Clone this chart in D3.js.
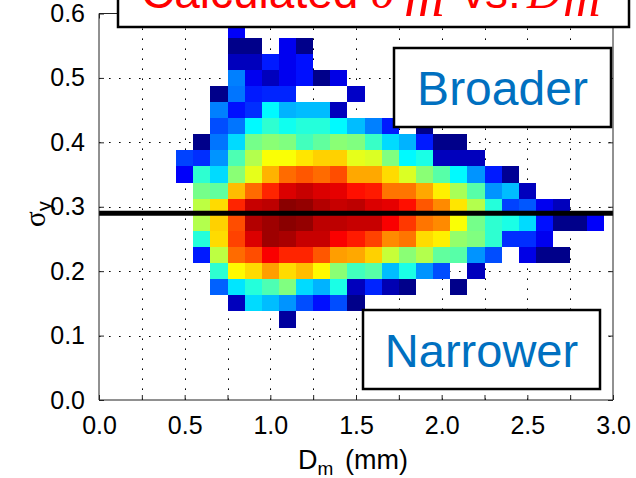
<!DOCTYPE html>
<html>
<head>
<meta charset="utf-8">
<script src="https://cdn.jsdelivr.net/npm/d3@7/dist/d3.min.js"></script>
<style>
  body { margin: 0; background: #fff; }
  svg { display: block; }
</style>
</head>
<body>
<svg id="chart" width="636" height="478"></svg>
<script>
// Bin centres of the 2-D histogram: mass-weighted mean diameter (mm) and sigma.
const dmCenters = [0.5, 0.6, 0.7, 0.8, 0.9, 1.0, 1.1, 1.2, 1.3, 1.4, 1.5, 1.6, 1.7,
                   1.8, 1.9, 2.0, 2.1, 2.2, 2.3, 2.4, 2.5, 2.6, 2.7, 2.8, 2.9];
const sigmaCenters = [0.575, 0.55, 0.525, 0.5, 0.475, 0.45, 0.425, 0.4, 0.375, 0.35,
                      0.325, 0.3, 0.275, 0.25, 0.225, 0.2, 0.175, 0.15, 0.125];

// Relative occurrence (0-100) per bin, one row per sigma bin, 0 = no samples.
const row0575 = [0,0,0,12,0,0,0,0,0,0,0,0,0,0,0,0,0,0,0,0,0,0,0,0,0];
const row0550 = [0,0,0,1,1,0,11,1,0,0,0,0,0,0,0,0,0,0,0,0,0,0,0,0,0];
const row0525 = [0,0,0,6,6,15,11,14,0,0,0,0,0,0,0,0,0,0,0,0,0,0,0,0,0];
const row0500 = [0,0,0,25,11,6,11,14,1,10,0,0,0,0,0,0,0,0,0,0,0,0,0,0,0];
const row0475 = [0,0,1,24,15,16,16,0,0,0,7,0,0,0,0,0,0,0,0,0,0,0,0,0,0];
const row0450 = [0,0,25,14,17,37,30,31,31,6,0,0,0,0,0,0,0,0,0,0,0,0,0,0,0];
const row0425 = [0,0,20,24,37,42,39,41,41,37,31,25,15,0,1,0,0,0,0,0,0,0,0,0,0];
const row0400 = [0,1,24,34,49,51,50,44,47,51,50,43,34,30,15,1,1,0,0,0,0,0,0,0,0];
const row0375 = [19,17,27,45,55,62,62,65,67,67,60,59,50,37,40,6,6,6,0,0,0,0,0,0,0];
const row0350 = [12,42,34,51,60,70,77,79,77,80,71,71,66,59,51,46,37,27,15,2,0,0,0,0,0];
const row0325 = [0,49,47,69,77,84,91,93,91,90,86,85,76,76,71,64,54,46,27,31,6,0,0,0,0];
const row0300 = [0,56,66,84,93,94,99,98,95,93,94,91,90,86,79,74,65,55,41,19,21,11,6,0,0];
const row0275 = [0,55,67,80,95,97,99,98,94,94,93,93,88,82,76,74,62,49,42,40,34,14,1,1,12];
const row0250 = [0,41,66,81,91,97,96,93,93,88,85,81,74,76,66,64,52,50,42,17,17,11,0,0,0];
const row0225 = [0,15,56,77,80,88,84,84,79,72,71,67,57,51,55,47,46,27,20,0,10,1,1,0,0];
const row0200 = [0,0,42,63,66,72,66,69,63,51,44,46,31,40,27,20,0,6,0,0,0,0,0,0,0];
const row0175 = [0,0,22,35,41,45,50,34,30,40,6,16,5,1,0,0,1,0,0,0,0,0,0,0,0];
const row0150 = [0,0,0,6,34,31,27,20,14,20,1,0,0,0,0,0,0,0,0,0,0,0,0,0,0];
const row0125 = [0,0,0,0,0,0,3,0,0,0,0,0,0,0,0,0,0,0,0,0,0,0,0,0,0];
const density = [row0575, row0550, row0525, row0500, row0475, row0450, row0425, row0400,
                 row0375, row0350, row0325, row0300, row0275, row0250, row0225, row0200,
                 row0175, row0150, row0125];

const binWidthX = 0.1;
const binWidthY = 0.025;
const referenceSigma = 0.29;

const xTickValues = [0, 0.25, 0.5, 0.75, 1.0, 1.25, 1.5, 1.75, 2.0, 2.25, 2.5, 2.75, 3.0];
const xTickLabels = ["0.0", "", "0.5", "", "1.0", "", "1.5", "", "2.0", "", "2.5", "", "3.0"];
const yTickValues = [0, 0.1, 0.2, 0.3, 0.4, 0.5, 0.6];
const yTickLabels = ["0.0", "0.1", "0.2", "0.3", "0.4", "0.5", "0.6"];

// ---------------------------------------------------------------------------
const svg = d3.select("#chart");
const plotLeft = 99, plotRight = 613, plotTop = 13.5, plotBottom = 400;

const x = d3.scaleLinear().domain([0, 3]).range([plotLeft, plotRight]);
const y = d3.scaleLinear().domain([0, 0.6]).range([plotBottom, plotTop]);

// MATLAB-style jet colormap
const jet = d3.scaleLinear()
  .domain([0, 12.5, 37.5, 62.5, 87.5, 100])
  .range(["#000080", "#0000ff", "#00ffff", "#ffff00", "#ff0000", "#800000"])
  .interpolate(d3.interpolateRgb)
  .clamp(true);

const sansFont = "'Liberation Sans', Arial, Helvetica, sans-serif";
const serifFont = "'Liberation Serif', 'Times New Roman', serif";

// dotted grid, drawn beneath the histogram
const grid = svg.append("g").attr("stroke", "#000").attr("stroke-width", 1)
  .attr("stroke-dasharray", "1.6,8.4").attr("fill", "none");
grid.selectAll("line.gx").data(xTickValues.slice(1, -1)).join("line")
  .attr("class", "gx")
  .attr("x1", d => Math.round(x(d)) + 0.5).attr("x2", d => Math.round(x(d)) + 0.5)
  .attr("y1", plotBottom).attr("y2", plotTop);
grid.selectAll("line.gy").data(yTickValues.slice(1, -1)).join("line")
  .attr("class", "gy")
  .attr("y1", d => Math.round(y(d)) + 0.5).attr("y2", d => Math.round(y(d)) + 0.5)
  .attr("x1", plotLeft).attr("x2", plotRight);

// histogram cells
const cells = [];
density.forEach((row, i) => row.forEach((v, j) => {
  if (v > 0) cells.push({ dm: dmCenters[j], sigma: sigmaCenters[i], v });
}));
svg.append("g").selectAll("rect").data(cells).join("rect")
  .attr("x", d => x(d.dm - binWidthX / 2))
  .attr("width", d => x(d.dm + binWidthX / 2) - x(d.dm - binWidthX / 2))
  .attr("y", d => y(d.sigma + binWidthY / 2))
  .attr("height", d => y(d.sigma - binWidthY / 2) - y(d.sigma + binWidthY / 2))
  .attr("fill", d => jet(d.v))
  .attr("shape-rendering", "crispEdges");

// reference sigma line
svg.append("line")
  .attr("x1", plotLeft).attr("x2", plotRight)
  .attr("y1", y(referenceSigma)).attr("y2", y(referenceSigma))
  .attr("stroke", "#000").attr("stroke-width", 5);

// axes
const xAxisB = d3.axisBottom(x).tickValues(xTickValues).tickSize(-5).tickPadding(16)
  .tickFormat((d, i) => xTickLabels[i]);
const xAxisT = d3.axisTop(x).tickValues(xTickValues).tickSize(-5).tickFormat("");
const yAxisL = d3.axisLeft(y).tickValues(yTickValues).tickSize(-5).tickPadding(14)
  .tickFormat((d, i) => yTickLabels[i]);
const yAxisR = d3.axisRight(y).tickValues(yTickValues).tickSize(-5).tickFormat("");

function styleAxis(g) {
  g.select(".domain").attr("stroke", "#222").attr("stroke-width", 1);
  g.selectAll(".tick line").attr("stroke", "#222");
  g.selectAll(".tick text").attr("fill", "#000").attr("font-family", sansFont).attr("font-size", 25);
}
svg.append("g").attr("transform", `translate(0,${plotBottom})`).call(xAxisB).call(styleAxis)
  .call(g => g.select(".domain").attr("d", `M${plotLeft},0H${plotRight}`));
svg.append("g").attr("transform", `translate(0,${plotTop})`).call(xAxisT).call(styleAxis)
  .call(g => g.select(".domain").attr("d", `M${plotLeft},0H${plotRight}`));
svg.append("g").attr("transform", `translate(${plotLeft},0)`).call(yAxisL).call(styleAxis)
  .call(g => g.select(".domain").attr("d", `M0,${plotBottom}V${plotTop}`));
svg.append("g").attr("transform", `translate(${plotRight},0)`).call(yAxisR).call(styleAxis)
  .call(g => g.select(".domain").attr("d", `M0,${plotBottom}V${plotTop}`));

// axis titles
const xt = svg.append("text").attr("y", 469)
  .attr("font-family", sansFont).attr("font-size", 27).attr("fill", "#000");
xt.append("tspan").attr("x", 298).text("D");
xt.append("tspan").attr("font-size", 19).attr("dy", 6).text("m");
xt.append("tspan").attr("x", 345).attr("dy", -6).text("(mm)");

const yt = svg.append("text").attr("transform", "translate(45,227) rotate(-90)")
  .attr("font-family", serifFont).attr("font-size", 29).attr("fill", "#000");
yt.append("tspan").text("σ");
yt.append("tspan").attr("font-family", sansFont).attr("font-size", 20).attr("dy", 6).text("y");

// annotation boxes
function labelBox(x0, y0, w, h, label, fs) {
  svg.append("rect").attr("x", x0).attr("y", y0).attr("width", w).attr("height", h)
    .attr("fill", "#fff").attr("stroke", "#000").attr("stroke-width", 2.5);
  svg.append("text").attr("x", x0 + w / 2).attr("y", y0 + 57)
    .attr("text-anchor", "middle").attr("font-family", sansFont)
    .attr("font-size", fs).attr("fill", "#0070c0").text(label);
}
labelBox(394, 48, 217, 79, "Broader", 48);
labelBox(363, 310, 237, 79, "Narrower", 47);

// title box (runs off the top edge)
svg.append("rect").attr("x", 118).attr("y", -40).attr("width", 511).attr("height", 67)
  .attr("fill", "#fff").attr("stroke", "#000").attr("stroke-width", 2.5);
const tt = svg.append("text").attr("y", 8).attr("fill", "#ff0000").attr("font-size", 46)
  .attr("font-family", sansFont);
tt.append("tspan").attr("x", 141).text("Calculated");
tt.append("tspan").attr("x", 371).attr("font-family", serifFont)
  .attr("font-style", "italic").attr("font-size", 48).text("σ");
tt.append("tspan").attr("x", 404).attr("dy", 8).attr("font-family", serifFont)
  .attr("font-style", "italic").attr("font-size", 56).text("m");
tt.append("tspan").attr("x", 462).attr("dy", -8).text("vs.");
tt.append("tspan").attr("x", 527).attr("font-family", serifFont)
  .attr("font-style", "italic").attr("font-size", 48).text("D");
tt.append("tspan").attr("x", 563).attr("dy", 8).attr("font-family", serifFont)
  .attr("font-style", "italic").attr("font-size", 52).text("m");
</script>
</body>
</html>
